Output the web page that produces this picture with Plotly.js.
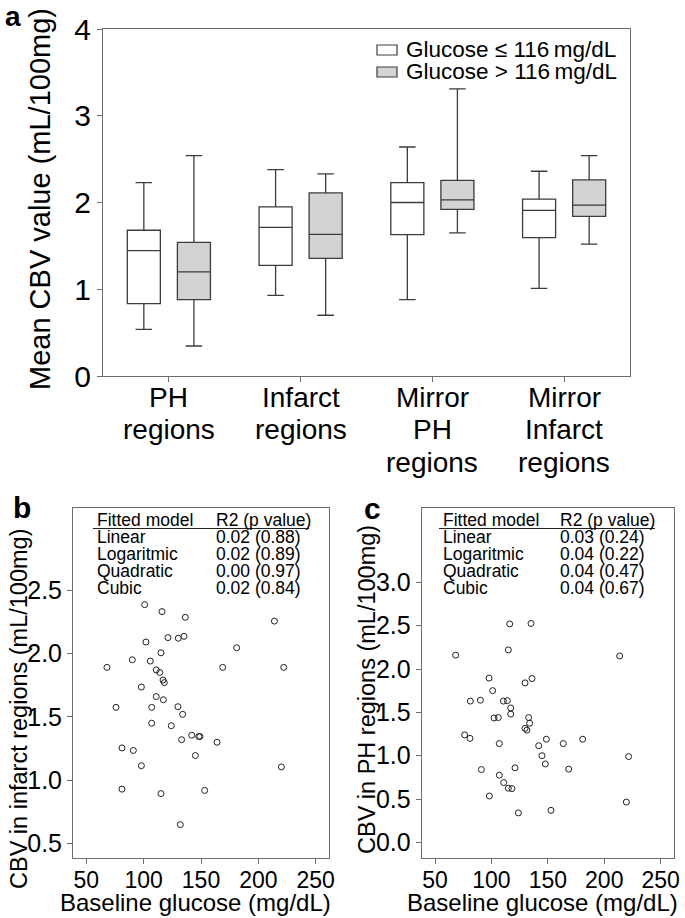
<!DOCTYPE html>
<html>
<head>
<meta charset="utf-8">
<script src="https://cdn.plot.ly/plotly-3.0.1.min.js"></script>
<style>
  html, body { margin: 0; padding: 0; background: #fff; }
  #chart { width: 685px; height: 918px; }
</style>
</head>
<body>
<div id="chart"></div>
<script>
// ---- data ----
const regions = ['PH<br>regions', 'Infarct<br>regions', 'Mirror<br>PH<br>regions', 'Mirror<br>Infarct<br>regions'];
const groupNames = ['Glucose \u2264 116\u2009mg/dL', 'Glucose > 116\u2009mg/dL'];

const lowUpper  = [2.23, 2.38, 2.64, 2.36];
const lowQ3     = [1.68, 1.95, 2.23, 2.04];
const lowMedian = [1.445, 1.714, 2.00, 1.91];
const lowQ1     = [0.834, 1.276, 1.63, 1.595];
const lowLower  = [0.538, 0.93, 0.88, 1.01];

const highUpper  = [2.54, 2.33, 3.31, 2.54];
const highQ3     = [1.54, 2.11, 2.255, 2.26];
const highMedian = [1.20, 1.633, 2.03, 1.97];
const highQ1     = [0.88, 1.356, 1.92, 1.84];
const highLower  = [0.346, 0.70, 1.65, 1.52];

const glucoseB = [68.0, 75.9, 81.1, 81.1, 90.1, 91.0, 98.0, 98.0, 100.9, 102.0, 105.8, 107.0, 107.0, 111.0,
  111.0, 114.0, 115.1, 115.1, 116.0, 116.9, 118.0, 117.2, 121.2, 124.1, 129.9, 130.2, 132.0, 133.1, 134.0,
  135.2, 136.3, 141.9, 145.1, 148.0, 149.1, 153.2, 164.0, 168.9, 181.1, 214.0, 220.1, 222.1];
const cbvInfarct = [1.89, 1.575, 1.255, 0.93, 1.95, 1.235, 1.735, 1.115, 2.385, 2.09, 1.94, 1.575, 1.45, 1.66,
  1.87, 1.85, 2.005, 0.895, 2.33, 1.79, 1.77, 1.635, 2.125, 1.43, 1.58, 2.12, 0.65, 1.32, 1.52,
  2.135, 2.285, 1.355, 1.195, 1.345, 1.345, 0.92, 1.30, 1.89, 2.045, 2.255, 1.105, 1.89];

const glucoseC = [68.3, 76.3, 81.0, 81.3, 90.2, 91.1, 97.9, 98.2, 101.1, 102.3, 106.1, 107.0, 107.0, 110.9,
  110.6, 114.1, 115.0, 115.0, 116.2, 117.1, 117.1, 118.2, 120.9, 123.9, 129.8, 129.8, 131.5, 133.0, 133.9,
  135.1, 136.0, 141.9, 144.8, 147.8, 148.7, 152.8, 163.7, 168.5, 180.9, 213.7, 219.6, 221.6];
const cbvPH = [2.16, 1.24, 1.20, 1.63, 1.64, 0.84, 1.895, 0.535, 1.75, 1.435, 1.44, 1.14, 0.775, 0.69,
  1.63, 1.635, 2.22, 0.625, 2.52, 1.55, 1.48, 0.62, 0.86, 0.34, 1.84, 1.315, 1.295, 1.44, 1.375,
  2.525, 1.89, 1.115, 1.00, 0.905, 1.19, 0.37, 1.14, 0.845, 1.19, 2.15, 0.465, 0.99];

const tableHead = ['Fitted model', 'R2 (p value)'];
const modelNames = ['Linear', 'Logaritmic', 'Quadratic', 'Cubic'];
const fitB = ['0.02 (0.88)', '0.02 (0.89)', '0.00 (0.97)', '0.02 (0.84)'];
const fitC = ['0.03 (0.24)', '0.04 (0.22)', '0.04 (0.47)', '0.04 (0.67)'];

// ---- helpers: pixel -> paper ----
const W = 685, H = 918;
const px = x => x / W;
const py = y => 1 - y / H;

const FONT = 'Liberation Sans, Arial, Helvetica, sans-serif';
const boxLine = '#3c3c3c';
const frame = '#6e6e6e';

function boxTrace(name, fill, q1, med, q3, lo, hi) {
    return {
        type: 'box', name: name, x: regions,
        q1: q1, median: med, q3: q3, lowerfence: lo, upperfence: hi,
        fillcolor: fill, line: { color: boxLine, width: 1.3 },
        whiskerwidth: 0.5, boxpoints: false, hoverinfo: 'skip',
        xaxis: 'x', yaxis: 'y', showlegend: false
    };
}

const traces = [
    boxTrace(groupNames[0], '#ffffff', lowQ1, lowMedian, lowQ3, lowLower, lowUpper),
    boxTrace(groupNames[1], '#d3d3d3', highQ1, highMedian, highQ3, highLower, highUpper),
    { type: 'scatter', mode: 'markers', x: glucoseB, y: cbvInfarct, xaxis: 'x2', yaxis: 'y2',
      marker: { symbol: 'circle-open', size: 6, color: '#222', line: { width: 1 } }, showlegend: false, hoverinfo: 'skip' },
    { type: 'scatter', mode: 'markers', x: glucoseC, y: cbvPH, xaxis: 'x3', yaxis: 'y3',
      marker: { symbol: 'circle-open', size: 6, color: '#222', line: { width: 1 } }, showlegend: false, hoverinfo: 'skip' }
];

const axisBase = {
    showline: true, mirror: true, linecolor: frame, linewidth: 1,
    ticks: 'outside', ticklen: 5, tickcolor: frame, tickwidth: 1,
    showgrid: false, zeroline: false, fixedrange: true
};

const annotations = [];
const shapes = [];

function addText(text, x, y, size, opts) {
    annotations.push(Object.assign({
        text: text, x: px(x), y: py(y), xref: 'paper', yref: 'paper',
        showarrow: false, font: { family: FONT, size: size, color: '#000' },
        xanchor: 'center', yanchor: 'middle'
    }, opts || {}));
}

// panel letters
addText('<b>a</b>', 13, 16, 28);
addText('<b>b</b>', 22, 507, 30);
addText('<b>c</b>', 372, 508, 30);

// axis titles
addText('Mean CBV value (mL/100mg)', 40, 199, 29, { textangle: -90 });
addText('CBV in infarct regions (mL/100mg)', 19, 709, 23.5, { textangle: -90 });
addText('CBV in PH regions (mL/100mg)', 367, 690, 23.5, { textangle: -90 });
addText('Baseline glucose (mg/dL)', 195.5, 902, 24);
addText('Baseline glucose (mg/dL)', 542.5, 902, 24);

// category labels of panel a, one line each (tight line spacing as in the figure)
regions.forEach((r, i) => {
    r.split('<br>').forEach((line, j) => {
        annotations.push({
            text: line, x: i, xref: 'x', y: py(398 + j * 32), yref: 'paper',
            showarrow: false, font: { family: FONT, size: 28, color: '#000' },
            xanchor: 'center', yanchor: 'middle'
        });
    });
});

// legend for panel a
const legendFill = ['#ffffff', '#d3d3d3'];
groupNames.forEach((name, i) => {
    const yc = 50 + i * 22;
    shapes.push({ type: 'rect', xref: 'paper', yref: 'paper',
        x0: px(377), x1: px(397), y0: py(yc - 5), y1: py(yc + 5),
        fillcolor: legendFill[i], line: { color: boxLine, width: 1.2 } });
    addText(name, 404, yc, 22.5, { xanchor: 'left' });
});

// fitted model tables
function addTable(x1, x2, lineEnd, values) {
    const rowY = [520, 537, 554.2, 571.2, 588.4];
    addText(tableHead[0], x1, rowY[0], 17.5, { xanchor: 'left' });
    addText(tableHead[1], x2, rowY[0], 17.5, { xanchor: 'left' });
    modelNames.forEach((m, i) => {
        addText(m, x1, rowY[i + 1], 17.5, { xanchor: 'left' });
        addText(values[i], x2, rowY[i + 1], 17.5, { xanchor: 'left' });
    });
    shapes.push({ type: 'line', xref: 'paper', yref: 'paper',
        x0: px(x1 - 2), x1: px(lineEnd), y0: py(528.5), y1: py(528.5),
        line: { color: '#222', width: 1 } });
}
addTable(95, 214, 309, fitB);
addTable(441, 558, 655, fitC);

const layout = {
    width: W, height: H,
    margin: { l: 0, r: 0, t: 0, b: 0 },
    paper_bgcolor: '#fff', plot_bgcolor: '#fff',
    font: { family: FONT, color: '#000' },
    showlegend: false,
    boxmode: 'group', boxgap: 0.24, boxgroupgap: 0.34,
    xaxis: Object.assign({}, axisBase, {
        domain: [px(103), px(630)], anchor: 'y',
        type: 'category', range: [-0.5, 3.5], showticklabels: false
    }),
    yaxis: Object.assign({}, axisBase, {
        domain: [py(376), py(29)], anchor: 'x',
        range: [0, 4], tickvals: [0, 1, 2, 3, 4],
        tickfont: { family: FONT, size: 30 }
    }),
    xaxis2: Object.assign({}, axisBase, {
        domain: [px(73), px(329)], anchor: 'y2',
        range: [38.4, 261.6], tickvals: [50, 100, 150, 200, 250],
        tickfont: { family: FONT, size: 23 }, ticklabelstandoff: -4
    }),
    yaxis2: Object.assign({}, axisBase, {
        domain: [py(858), py(508)], anchor: 'x2',
        range: [0.387, 3.147], tickvals: [0.5, 1.0, 1.5, 2.0, 2.5], tickformat: '.1f',
        tickfont: { family: FONT, size: 25 }
    }),
    xaxis3: Object.assign({}, axisBase, {
        domain: [px(421.7), px(674.3)], anchor: 'y3',
        range: [38.2, 262.1], tickvals: [50, 100, 150, 200, 250],
        tickfont: { family: FONT, size: 23 }, ticklabelstandoff: -4
    }),
    yaxis3: Object.assign({}, axisBase, {
        domain: [py(858), py(508)], anchor: 'x3',
        range: [-0.18, 3.857], tickvals: [0, 0.5, 1.0, 1.5, 2.0, 2.5, 3.0], tickformat: '.1f',
        tickfont: { family: FONT, size: 25 }
    }),
    annotations: annotations,
    shapes: shapes
};

Plotly.newPlot('chart', traces, layout, { staticPlot: true, displayModeBar: false });
</script>
</body>
</html>
